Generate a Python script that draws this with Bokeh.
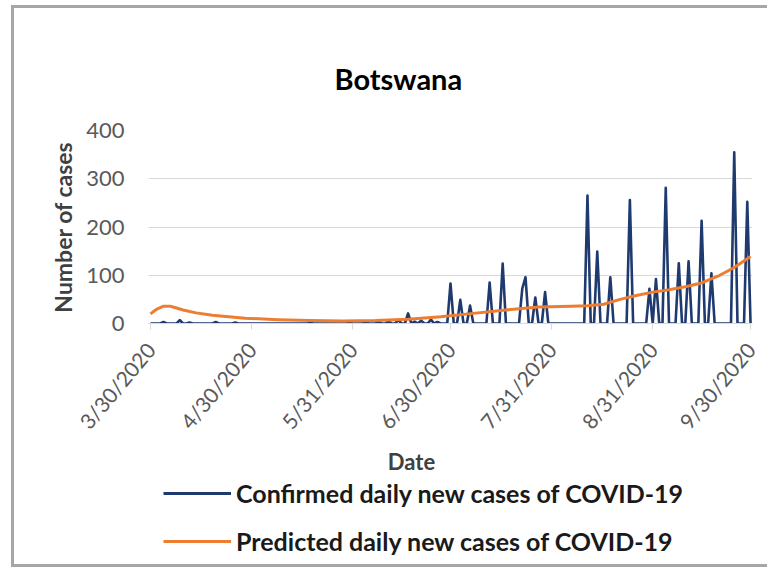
import math
import pandas as pd
from bokeh.plotting import figure
from bokeh.layouts import column
from bokeh.models import (Range1d, FixedTicker, Legend, LegendItem, Title,
                          Label, ColumnDataSource)
from bokeh.embed import file_html
from bokeh.resources import INLINE

title_text = "Botswana"
x_title = "Date"
y_title = "Number of cases"
series_names = ["Confirmed daily new cases of COVID-19",
                "Predicted daily new cases of COVID-19"]
series_colors = ["#1F3A6E", "#ED7D31"]

start_date = "2020-03-30"
end_date = "2020-09-30"
tick_dates = ["2020-03-30", "2020-04-30", "2020-05-31", "2020-06-30",
              "2020-07-31", "2020-08-31", "2020-09-30"]
tick_labels = ["3/30/2020", "4/30/2020", "5/31/2020", "6/30/2020",
               "7/31/2020", "8/31/2020", "9/30/2020"]
y_ticks = [0, 100, 200, 300, 400]

# confirmed daily new cases, one value per day from 3/30/2020 to 9/30/2020
confirmed = [
    0, 0, 0, 0, 3, 0, 0, 0, 0, 7,
    0, 0, 2, 0, 0, 0, 0, 0, 0, 0,
    3, 0, 0, 0, 0, 0, 2, 0, 0, 0,
    0, 0, 0, 0, 0, 0, 0, 0, 0, 0,
    0, 0, 0, 0, 0, 0, 0, 0, 0, 1,
    0, 0, 0, 0, 0, 0, 0, 0, 0, 0,
    0, 2, 0, 0, 0, 0, 3, 0, 0, 0,
    4, 0, 0, 5, 0, 0, 7, 0, 0, 21,
    0, 4, 0, 6, 0, 0, 8, 0, 3, 0,
    0, 0, 83, 0, 0, 49, 0, 0, 37, 0,
    0, 0, 0, 0, 85, 0, 0, 0, 124, 0,
    0, 0, 0, 0, 72, 96, 0, 0, 54, 0,
    0, 65, 0, 0, 0, 0, 0, 0, 0, 0,
    0, 0, 0, 0, 265, 0, 0, 149, 0, 0,
    0, 96, 0, 0, 0, 0, 0, 256, 0, 0,
    0, 0, 0, 72, 0, 92, 0, 0, 281, 0,
    0, 0, 125, 0, 0, 129, 0, 0, 0, 213,
    0, 0, 104, 0, 0, 0, 0, 0, 0, 355,
    0, 0, 0, 252, 0,
]

pred_dates = ["2020-03-30", "2020-04-01", "2020-04-03", "2020-04-05", "2020-04-07",
              "2020-04-09", "2020-04-13", "2020-04-18", "2020-04-23", "2020-04-28",
              "2020-05-08", "2020-05-18", "2020-05-28", "2020-06-07", "2020-06-17",
              "2020-06-27", "2020-07-07", "2020-07-17", "2020-07-27", "2020-08-06",
              "2020-08-11", "2020-08-16", "2020-08-21", "2020-08-26", "2020-08-31",
              "2020-09-05", "2020-09-10", "2020-09-15", "2020-09-20", "2020-09-25",
              "2020-09-30"]
predicted = [20, 30, 36, 36, 32,
             28, 22, 17, 14, 11,
             8, 6, 5, 6, 9,
             14, 21, 28, 34, 36,
             37, 40, 50, 58, 65,
             70, 76, 84, 98, 116,
             139]

t0 = pd.Timestamp(start_date)
days = [(d - t0).days for d in pd.date_range(start_date, end_date, freq="D")]
pred_x = [(pd.Timestamp(d) - t0).days for d in pred_dates]
tick_x = [(pd.Timestamp(d) - t0).days for d in tick_dates]
last = days[-1]

FONT = "Lato"
W = 767
H_TOTAL = 569
FL, FR, FT, FB = 148, 752, 130, 323   # frame edges of the chart
AXIS_H = 123                           # room below the frame for the x axis
H1 = FB + AXIS_H
H2 = H_TOTAL - H1

# ---------------- main chart ----------------
p = figure(width=W, height=H1, output_backend="svg", toolbar_location=None,
           x_range=Range1d(-0.6, last + 0.6), y_range=Range1d(0, 400),
           min_border_left=FL, min_border_right=W - FR,
           min_border_top=FT, min_border_bottom=AXIS_H)
p.outline_line_color = None
p.background_fill_color = "white"
p.border_fill_alpha = 0

src_c = ColumnDataSource(dict(x=days, y=confirmed))
src_p = ColumnDataSource(dict(x=pred_x, y=predicted))
p.line("x", "y", source=src_c, line_color=series_colors[0], line_width=2.6,
       line_join="round")
p.line("x", "y", source=src_p, line_color=series_colors[1], line_width=3,
       line_join="round")

p.xgrid.grid_line_color = None
p.ygrid.grid_line_color = "#D9D9D9"
p.ygrid.grid_line_width = 1.2

p.yaxis.ticker = FixedTicker(ticks=y_ticks)
p.yaxis.axis_line_color = None
p.yaxis.major_tick_line_color = None
p.yaxis.minor_tick_line_color = None
p.yaxis.major_tick_out = 0
p.yaxis.major_tick_in = 0
p.yaxis.major_label_standoff = 24
p.yaxis.major_label_text_font = FONT
p.yaxis.major_label_text_font_size = "22px"
p.yaxis.major_label_text_color = "#595959"
p.yaxis.axis_label = y_title
p.yaxis.axis_label_text_font = FONT
p.yaxis.axis_label_text_font_size = "23px"
p.yaxis.axis_label_text_font_style = "bold"
p.yaxis.axis_label_text_color = "#404040"
p.yaxis.axis_label_standoff = 6

p.xaxis.ticker = FixedTicker(ticks=tick_x)
p.xaxis.major_label_overrides = {tx: lab for tx, lab in zip(tick_x, tick_labels)}
p.xaxis.axis_line_color = "#D9D9D9"
p.xaxis.axis_line_width = 1.2
p.xaxis.major_tick_line_color = "#D9D9D9"
p.xaxis.major_tick_out = 6
p.xaxis.major_tick_in = 0
p.xaxis.minor_tick_line_color = None
p.xaxis.major_label_orientation = math.radians(50)
p.xaxis.major_label_standoff = 16
p.xaxis.major_label_text_font = FONT
p.xaxis.major_label_text_font_size = "21px"
p.xaxis.major_label_text_color = "#595959"

p.title = Title(text=title_text, align="left", offset=186, standoff=70,
                text_font=FONT, text_font_size="29px", text_font_style="bold",
                text_color="#000000")

# ---------------- axis title and legend strip ----------------
# (its frame is aligned with the chart's frame by the column layout)
q = figure(width=W, height=H2, output_backend="svg", toolbar_location=None,
           x_range=Range1d(0, FR - FL), y_range=Range1d(0, H2),
           min_border=0, x_axis_location=None, y_axis_location=None)
q.outline_line_color = None
q.grid.grid_line_color = None
q.background_fill_alpha = 0
q.border_fill_alpha = 0

# legend samples carry the same line styles as the chart's series
k1 = q.line(x=[-10], y=[-10], line_color=series_colors[0], line_width=3)
k2 = q.line(x=[-10], y=[-10], line_color=series_colors[1], line_width=3)

q.add_layout(Label(x=411 - FL, y=H_TOTAL - 461, x_units="screen", y_units="screen",
                   text=x_title, text_font=FONT, text_font_size="22px",
                   text_font_style="bold", text_color="#404040",
                   text_align="center", text_baseline="middle"))

legend = Legend(items=[LegendItem(label=series_names[0], renderers=[k1]),
                       LegendItem(label=series_names[1], renderers=[k2])],
                location=(163 - FL, 13), orientation="vertical",
                glyph_width=68, glyph_height=30, label_height=30,
                spacing=18, label_standoff=5, padding=0, margin=0,
                border_line_alpha=0, background_fill_alpha=0,
                label_text_font=FONT, label_text_font_size="25px",
                label_text_font_style="bold", label_text_color="#1a1a1a")
q.add_layout(legend, "center")

g = "linear-gradient(#A6A6A6,#A6A6A6)"
layout = column(p, q, spacing=0, styles={
    "background-color": "white",
    "background-image": f"{g}, {g}, {g}",
    "background-size": "3px 562px, 760px 3px, 760px 3px",
    "background-position": "11px 5px, 11px 5px, 11px 564px",
    "background-repeat": "no-repeat",
})

open("out.html", "w").write(file_html(layout, INLINE))
